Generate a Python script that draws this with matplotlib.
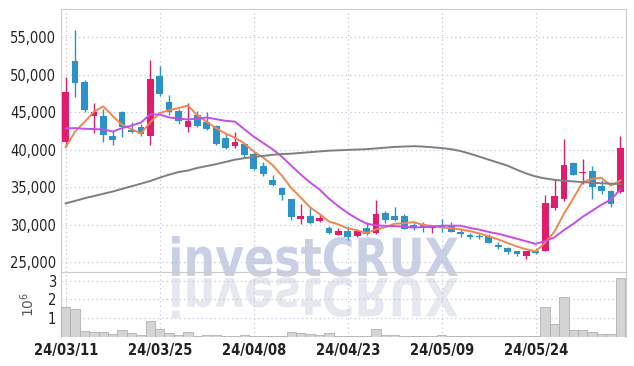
import matplotlib
matplotlib.use('Agg')
import matplotlib.pyplot as plt
from matplotlib.font_manager import FontProperties
from matplotlib.textpath import TextPath
from matplotlib.patches import PathPatch
from matplotlib.transforms import Affine2D
import numpy as np
import pandas as pd

# daily candles, 60 trading days from 24/03/11
opens = [41100, 51800, 49100, 44500, 44500, 41850, 45000, 42700, 43100, 41850,
         49850, 46400, 45150, 43050, 44700, 43700, 43250, 41650, 40500, 40850,
         39500, 37800, 36050, 34950, 33400, 30750, 31150, 30500, 29550, 28650,
         29200, 28500, 29550, 28900, 31600, 31250, 31150, 29950, 30150, 29550,
         29900, 29950, 29050, 28600, 28550, 28500, 27350, 26950, 26450, 25850,
         26500, 26500, 32250, 33400, 38200, 36900, 37150, 35150, 34550, 34450]
highs = [49700, 56000, 49300, 46200, 45500, 42500, 45150, 43700, 43500, 52000,
         51200, 47350, 45500, 46300, 45250, 45050, 43300, 42250, 42400, 40900,
         39700, 38400, 36600, 35100, 33500, 32850, 32300, 31400, 29800, 29550,
         29800, 29200, 30400, 33350, 31850, 32450, 31500, 30400, 30400, 30000,
         30850, 30350, 29500, 28950, 28950, 28850, 27700, 27000, 26500, 26500,
         26900, 34050, 36050, 41500, 38450, 38800, 37850, 35950, 34600, 41850]
lows = [40400, 47000, 45100, 42300, 41100, 40700, 41700, 42300, 41800, 40700,
        47250, 44600, 43450, 42400, 43000, 42700, 40700, 40150, 40300, 38950,
        37300, 36500, 35150, 33350, 30700, 30150, 30150, 30450, 28800, 28600,
        28000, 28450, 28700, 28750, 30200, 30500, 29450, 29350, 29050, 28900,
        29100, 29000, 28450, 28150, 28150, 27550, 26800, 26050, 25850, 25500,
        26050, 26450, 32050, 33150, 36650, 35500, 33500, 34150, 32350, 34250]
closes = [47750, 48900, 45300, 45100, 42000, 41300, 43100, 42450, 42100, 49500,
          47400, 45050, 43850, 43800, 43150, 42850, 40850, 40250, 41100, 39300,
          37450, 36800, 35300, 33950, 31050, 31150, 30250, 30900, 28900, 29150,
          28400, 29150, 28850, 31450, 30600, 30700, 29500, 29650, 29550, 29900,
          29650, 29050, 28850, 28400, 28400, 27600, 27100, 26400, 26150, 26450,
          26250, 32900, 33800, 38050, 36700, 37100, 35050, 34550, 32750, 40250]
volumes = [1.59, 1.51, 0.30, 0.25, 0.25, 0.16, 0.36, 0.20, 0.09, 0.86,
           0.41, 0.20, 0.10, 0.25, 0.04, 0.08, 0.08, 0.07, 0.04, 0.08,
           0.04, 0.04, 0.04, 0.07, 0.27, 0.22, 0.16, 0.08, 0.20, 0.07,
           0.05, 0.06, 0.05, 0.41, 0.09, 0.08, 0.04, 0.03, 0.03, 0.04,
           0.08, 0.03, 0.03, 0.04, 0.04, 0.03, 0.03, 0.04, 0.04, 0.03,
           0.04, 1.59, 0.70, 2.12, 0.36, 0.36, 0.25, 0.15, 0.15, 3.14]
# closes before the window (needed for the short moving averages)
prior_closes = [48500, 46100, 45600, 42500, 44100, 38500, 39000, 38200, 38450]
# long moving average
ma_long = [32870, 33200, 33550, 33850, 34150, 34450, 34800, 35150, 35500, 35850,
           36300, 36700, 37050, 37250, 37600, 37850, 38100, 38400, 38700, 38900,
           39050, 39200, 39350, 39450, 39500, 39600, 39700, 39800, 39900, 39950,
           40000, 40050, 40100, 40200, 40300, 40400, 40450, 40500, 40450, 40350,
           40250, 40100, 39850, 39500, 39100, 38700, 38300, 37900, 37350, 36850,
           36450, 36200, 36000, 35900, 35800, 35700, 35630, 35550, 35500, 35450]
tick_pos = [0, 10, 20, 30, 40, 50]
tick_labels = ['24/03/11', '24/03/25', '24/04/08', '24/04/23', '24/05/09', '24/05/24']

UP = '#e31b6d'
DOWN = '#2b93c8'
GRID = '#c3c8da'
tick_font = FontProperties(family='DejaVu Sans', stretch='condensed', size=10.5)
date_font = FontProperties(family='DejaVu Sans', stretch='condensed', weight='bold', size=10.5)

all_close = pd.Series(prior_closes + closes, dtype=float)
ma5 = all_close.rolling(5).mean().values[len(prior_closes):]
ma10 = all_close.rolling(10).mean().values[len(prior_closes):]

o = np.array(opens, float)
h = np.array(highs, float)
l = np.array(lows, float)
c = np.array(closes, float)
x = np.arange(len(c))
cols = np.where(c >= o, UP, DOWN)

fig = plt.figure(figsize=(6.34, 3.66), dpi=100)
fig.patch.set_facecolor('white')

# watermark with reflection, squeezed to the reference width
tp = TextPath((0, 0), 'investCRUX', size=54,
              prop=FontProperties(family='DejaVu Sans', weight='bold'))
bb = tp.get_extents()
sx = 286 / bb.width
sy = 38 / 39.0
fig.add_artist(PathPatch(tp, transform=Affine2D().scale(sx, sy).translate(172 - bb.x0 * sx, 366 - 276),
                         facecolor='#c9cfe4', edgecolor='none', zorder=-1))
fig.add_artist(PathPatch(tp, transform=Affine2D().scale(sx, -sy).translate(172 - bb.x0 * sx, 366 - 278),
                         facecolor='#e6e8f0', edgecolor='none', zorder=-1))

ax = fig.add_axes((61 / 634, 1 - 272 / 366, 565 / 634, 263 / 366))
axv = fig.add_axes((61 / 634, 1 - 337 / 366, 565 / 634, 65 / 366), sharex=ax)
for a in (ax, axv):
    a.set_facecolor('none')
    for s in a.spines.values():
        s.set_color('#cccccc')
    a.grid(True, color=GRID, linestyle=(0, (1, 2.5)), linewidth=0.9)
    a.tick_params(length=0, colors='#222222')
    a.set_axisbelow(True)
axv.spines['bottom'].set_visible(False)

# candles
ax.vlines(x, l, h, color=cols, linewidth=1.0, zorder=3)
body = np.maximum(np.abs(c - o), 120)
ax.bar(x, body, bottom=np.minimum(o, c), width=0.72, color=cols, zorder=3)

ax.plot(x, ma5, color='#f0874f', linewidth=1.4, zorder=4)
ax.plot(x, ma10, color='#c64ee6', linewidth=1.4, zorder=4)
ax.plot(x, ma_long, color='#7f7f7f', linewidth=1.4, zorder=4)

ax.set_xlim(-0.5, 59.6)
ax.set_ylim(min(lows) * 0.93, max(highs) * 1.05)
ax.set_yticks([25000, 30000, 35000, 40000, 45000, 50000, 55000])
ax.set_yticklabels([f'{v:,}' for v in range(25000, 60000, 5000)], fontproperties=tick_font)
ax.tick_params(labelbottom=False)

vol = np.array(volumes) * 1e6
axv.bar(x, vol, width=1.0, color='#d4d4d4', edgecolor='#b0b0b0', linewidth=0.6, zorder=3)
axv.set_ylim(0, max(vol) * 1.1)
axv.set_yticks([1e6, 2e6, 3e6])
axv.set_yticklabels(['1', '2', '3'], fontproperties=tick_font)
axv.set_ylabel(r'$10^6$', color='#555555', fontsize=10, labelpad=8)
axv.set_xticks(tick_pos)
axv.set_xticklabels(tick_labels, fontproperties=date_font)
axv.tick_params(axis='x', pad=4)

fig.savefig('out.png', dpi=100)
